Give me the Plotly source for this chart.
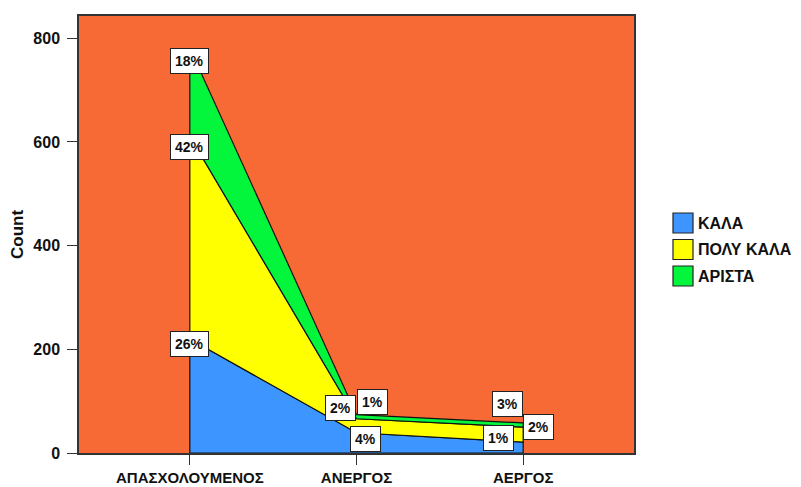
import plotly.graph_objects as go

# ---- data ----
categories = ["ΑΠΑΣΧΟΛΟΥΜΕΝΟΣ", "ΑΝΕΡΓΟΣ", "ΑΕΡΓΟΣ"]
series_names = ["ΚΑΛΑ", "ΠΟΛΥ ΚΑΛΑ", "ΑΡΙΣΤΑ"]
kala = [220, 39, 21]
poly_kala = [391, 27, 29]
arista = [170, 8, 8]
kala_pct = ["26%", "4%", "1%"]
poly_kala_pct = ["42%", "2%", "2%"]
arista_pct = ["18%", "1%", "3%"]
y_ticks = [0, 200, 400, 600, 800]

# ---- styles ----
colors = ["#3D95FF", "#FFFF00", "#03F53C"]
orange = "#F86A35"
FONT = "Liberation Sans, Arial"
# label offsets (px) from the top of each segment, per series per category
label_shift = [
    [(0, -5), (9, -6), (-25, 4)],
    [(0, -11), (-16, 11), (15, 0)],
    [(0, -13), (16, 13), (-16, 19)],
]

series = [kala, poly_kala, arista]
pcts = [kala_pct, poly_kala_pct, arista_pct]

OFF = 8  # page body margin
PW, PH = 801, 487
W, H = PW - OFF, PH - OFF
# plot area in page pixels: x 79..634, y 16..453
L, T = 79 - OFF, 16 - OFF
R, B = W - (634 - OFF), H - (453 - OFF)
pw, ph = W - L - R, H - T - B


def px_x(x):
    return (x - OFF - L) / pw


def px_y(y):
    return (H - B - (y - OFF)) / ph


fig = go.Figure()
base = [0] * len(categories)
tops_all = []
for s, vals in enumerate(series):
    top = [b + v for b, v in zip(base, vals)]
    tops_all.append(top)
    xs = categories + categories[::-1] + [categories[0]]
    ys = top + base[::-1] + [top[0]]
    fig.add_trace(go.Scatter(
        x=xs, y=ys, mode="lines", fill="toself",
        fillcolor=colors[s], line=dict(color="#111111", width=1.2),
        name=series_names[s], showlegend=False, hoverinfo="skip",
    ))
    base = top

annotations = []
for s in range(len(series)):
    for i, c in enumerate(categories):
        dx, dy = label_shift[s][i]
        annotations.append(dict(
            x=c, y=tops_all[s][i], xref="x", yref="y",
            text="<b>" + pcts[s][i] + "</b>", showarrow=False,
            xshift=dx, yshift=dy,
            font=dict(family=FONT, size=14, color="#111111"),
            bgcolor="white", bordercolor="#222222", borderwidth=1, borderpad=4,
        ))

# y-axis title
annotations.append(dict(
    x=px_x(17.5), y=0.5, xref="paper", yref="paper",
    text="<b>Count</b>", textangle=-90, showarrow=False,
    font=dict(family=FONT, size=17, color="#111111"),
    xanchor="center", yanchor="middle",
))

# manual legend
shapes = []
for s, name in enumerate(series_names):
    yc = 223 + s * 26.5
    shapes.append(dict(
        type="rect", xref="paper", yref="paper",
        x0=px_x(673), x1=px_x(693),
        y0=px_y(yc + 10), y1=px_y(yc - 10),
        fillcolor=colors[s], line=dict(color="#222222", width=1.2),
    ))
    annotations.append(dict(
        x=px_x(696), y=px_y(yc), xref="paper", yref="paper",
        text="<b>" + name + "</b>", showarrow=False, xanchor="left", yanchor="middle",
        font=dict(family=FONT, size=16, color="#111111"),
    ))

fig.update_layout(
    width=W, height=H,
    margin=dict(l=L, r=R, t=T, b=B, autoexpand=False),
    paper_bgcolor="white", plot_bgcolor=orange,
    showlegend=False,
    annotations=annotations, shapes=shapes,
    xaxis=dict(
        type="category", range=[-0.665, 2.665],
        showgrid=False, zeroline=False,
        showline=True, linecolor="#333333", linewidth=1.5, mirror=True,
        ticks="outside", ticklen=10, tickcolor="#333333", tickwidth=1.2,
        tickfont=dict(family=FONT, size=15, color="#111111", weight="bold"),
        automargin=False, ticklabelstandoff=0,
    ),
    yaxis=dict(
        range=[0, 843], tickvals=y_ticks,
        showgrid=False, zeroline=False,
        showline=True, linecolor="#333333", linewidth=1.5, mirror=True,
        ticks="outside", ticklen=10, tickcolor="#333333", tickwidth=1.2,
        tickfont=dict(family=FONT, size=16, color="#111111", weight="bold"),
        automargin=False, ticklabelstandoff=4,
    ),
)

fig.write_html("out.html")
